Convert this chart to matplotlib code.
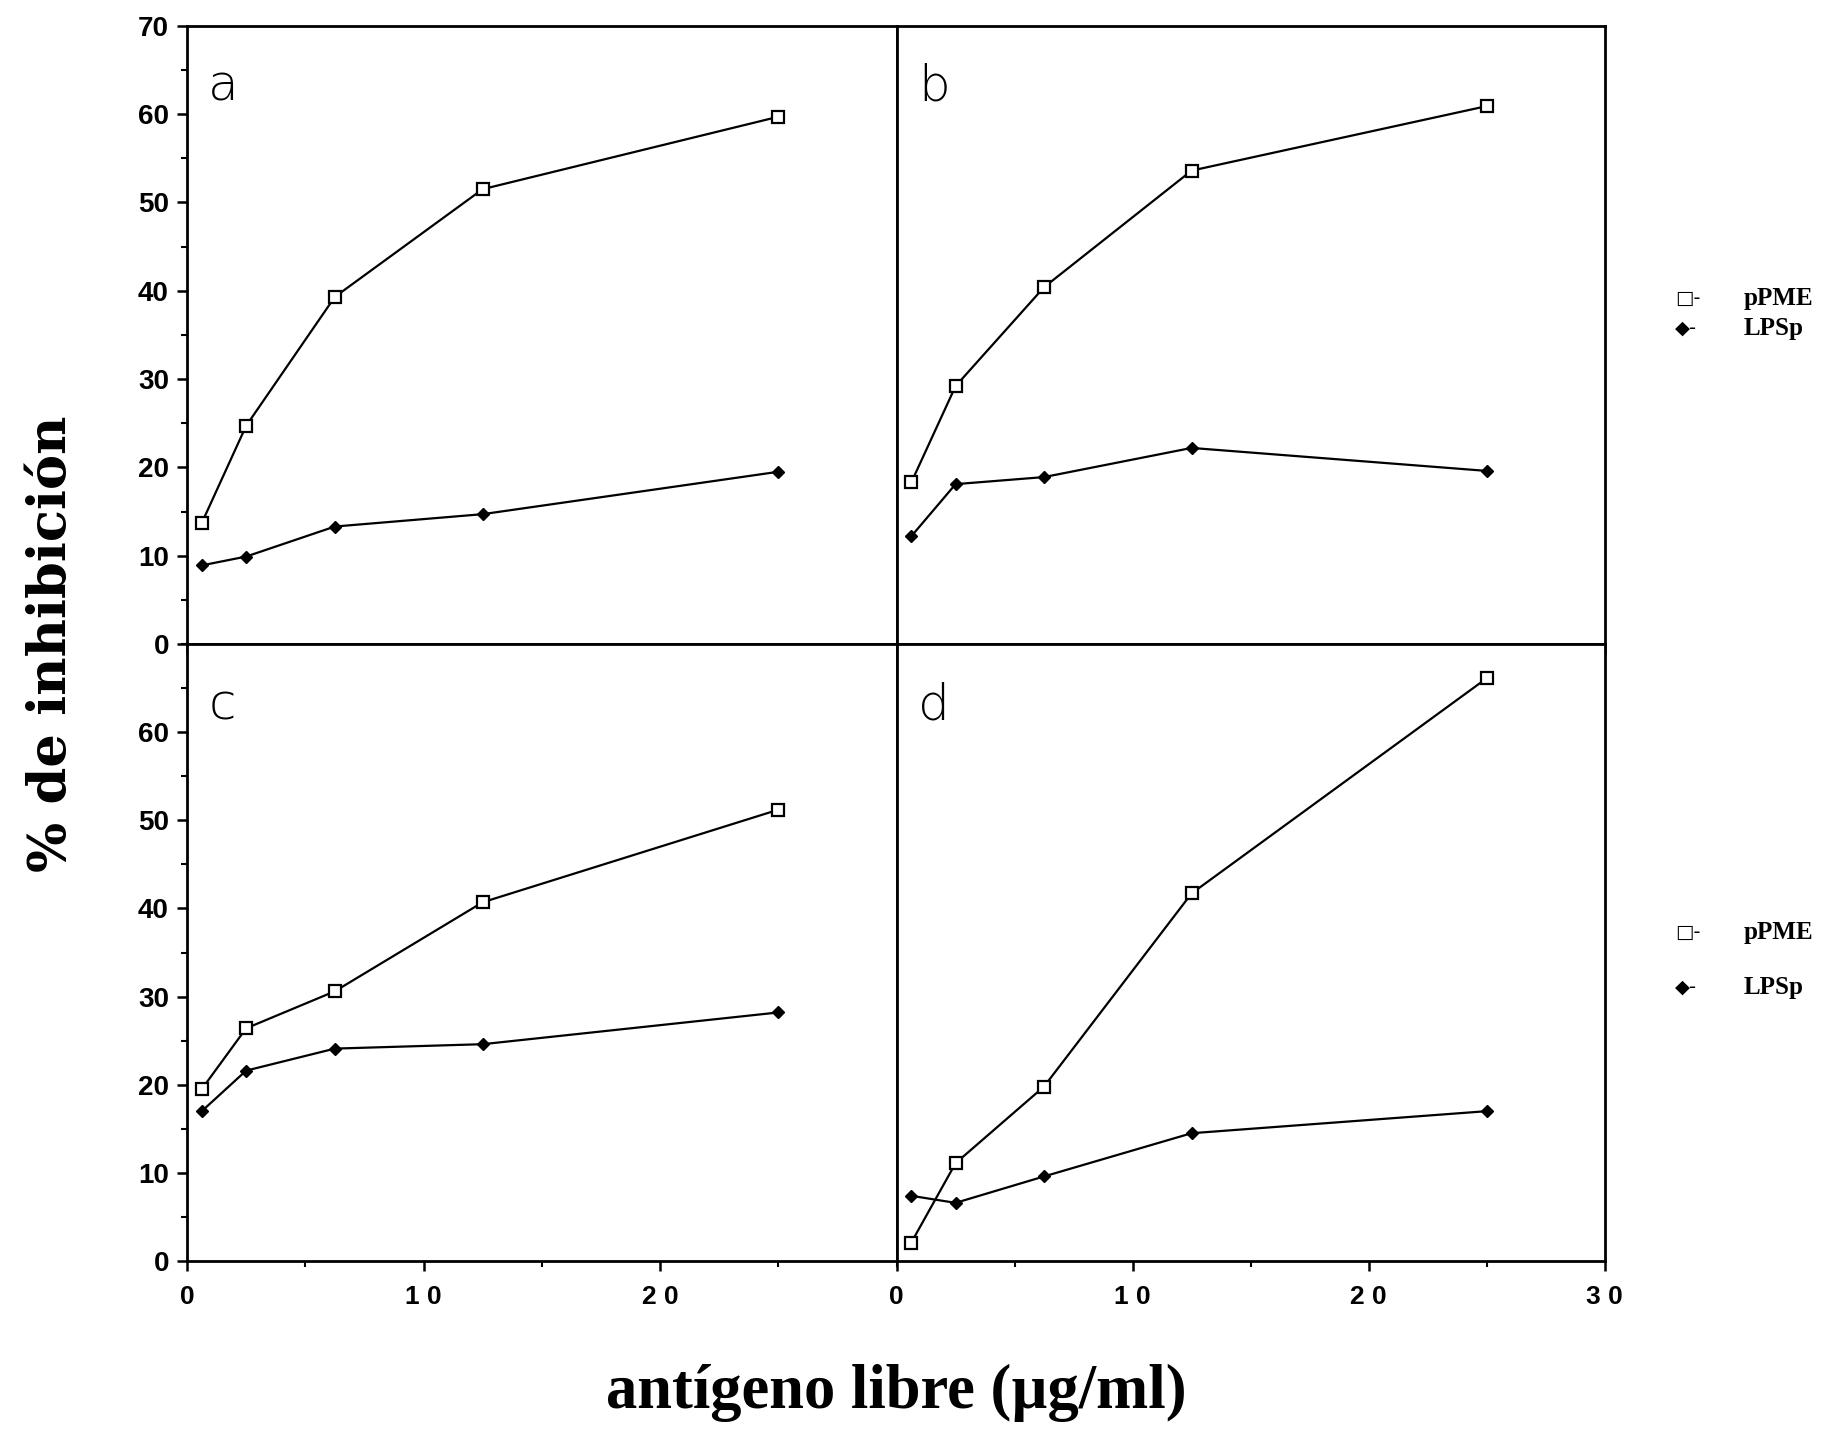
"""Inhibition curves: pPME vs LPSp, four panels a-d."""

import matplotlib
matplotlib.use("Agg")
import matplotlib.pyplot as plt
from matplotlib.ticker import MultipleLocator, FixedLocator, FixedFormatter

# antigen concentration (ug/ml)
conc = [0.625, 2.5, 6.25, 12.5, 25]

ppme_a = [13.7, 24.7, 39.3, 51.5, 59.7]
lpsp_a = [8.9, 9.9, 13.3, 14.7, 19.5]
ppme_b = [18.3, 29.2, 40.4, 53.6, 60.9]
lpsp_b = [12.2, 18.1, 18.9, 22.2, 19.6]
ppme_c = [19.5, 26.4, 30.6, 40.7, 51.2]
lpsp_c = [17.0, 21.6, 24.1, 24.6, 28.2]
ppme_d = [2.1, 11.1, 19.8, 41.7, 66.1]
lpsp_d = [7.4, 6.6, 9.6, 14.5, 17.0]

panels = ["a", "b", "c", "d"]
series_names = ["pPME", "LPSp"]

x_ticks_left = [0, 10, 20]
x_ticks_right = [0, 10, 20, 30]
x_labels_left = ["0", "1 0", "2 0"]
x_labels_right = ["0", "1 0", "2 0", "3 0"]
y_ticks_top = [0, 10, 20, 30, 40, 50, 60, 70]
y_ticks_bottom = [0, 10, 20, 30, 40, 50, 60]

fig = plt.figure(figsize=(18.35, 14.33), dpi=100)

L, M, R = 0.1019, 0.4886, 0.8744
B, C, T = 0.120, 0.5506, 0.982
boxes = [
    [L, C, M - L, T - C],
    [M, C, R - M, T - C],
    [L, B, M - L, C - B],
    [M, B, R - M, C - B],
]
data = [(ppme_a, lpsp_a), (ppme_b, lpsp_b), (ppme_c, lpsp_c), (ppme_d, lpsp_d)]

for i, (box, (pp, lp), letter) in enumerate(zip(boxes, data, panels)):
    ax = fig.add_axes(box)
    ax.plot(conc, pp, color="black", lw=1.6, marker="s", ms=9,
            mfc="white", mec="black", mew=1.6)
    ax.plot(conc, lp, color="black", lw=1.6, marker="D", ms=6,
            mfc="black", mec="black")
    ax.set_xlim(0, 30)
    ax.set_ylim(0, 70)
    for sp in ax.spines.values():
        sp.set_linewidth(2.0)
    ax.xaxis.set_minor_locator(MultipleLocator(5))
    ax.yaxis.set_minor_locator(MultipleLocator(5))
    ax.tick_params(which="major", direction="out", length=7, width=1.8)
    ax.tick_params(which="minor", direction="out", length=4, width=1.5)
    left = i % 2 == 0
    top = i < 2
    if left:
        ax.yaxis.set_major_locator(FixedLocator(y_ticks_top if top else y_ticks_bottom))
        ax.tick_params(axis="y", pad=6)
        for lab in ax.get_yticklabels():
            lab.set_family("Liberation Sans")
            lab.set_fontsize(20)
            lab.set_fontweight("bold")
    else:
        ax.set_yticklabels([])
        ax.tick_params(axis="y", which="both", length=0)
    if top:
        ax.set_xticklabels([])
    else:
        ticks = x_ticks_left if left else x_ticks_right
        labels = x_labels_left if left else x_labels_right
        ax.xaxis.set_major_locator(FixedLocator(ticks))
        ax.xaxis.set_major_formatter(FixedFormatter(labels))
        ax.tick_params(axis="x", pad=10)
        for lab in ax.get_xticklabels():
            lab.set_family("Liberation Sans")
            lab.set_fontsize(19)
            lab.set_fontweight("bold")
    ax.text(0.03, 0.94, letter, transform=ax.transAxes, fontsize=36,
            family="DejaVu Sans", fontweight="light", va="top", ha="left")

# side legends (top pair, bottom pair)
legend_rows = [(0.792, 0.771), (0.349, 0.311)]
for y1, y2 in legend_rows:
    fig.text(0.913, y1, "\u25a1-", fontsize=14, family="DejaVu Sans",
             va="center", ha="left")
    fig.text(0.913, y2, "\u25c6-", fontsize=14, family="DejaVu Sans",
             va="center", ha="left")
    fig.text(0.950, y1, series_names[0], fontsize=18, family="Liberation Serif",
             fontweight="bold", va="center", ha="left")
    fig.text(0.950, y2, series_names[1], fontsize=18, family="Liberation Serif",
             fontweight="bold", va="center", ha="left")

fig.text(0.028, 0.551, "% de inhibición", rotation=90, fontsize=38,
         family="DejaVu Serif", fontweight="bold", va="center", ha="center")
fig.text(0.4886, 0.028, "antígeno libre (µg/ml)", fontsize=45,
         family="Liberation Serif", fontweight="bold", va="center", ha="center")

fig.savefig("out.png", dpi=100)
